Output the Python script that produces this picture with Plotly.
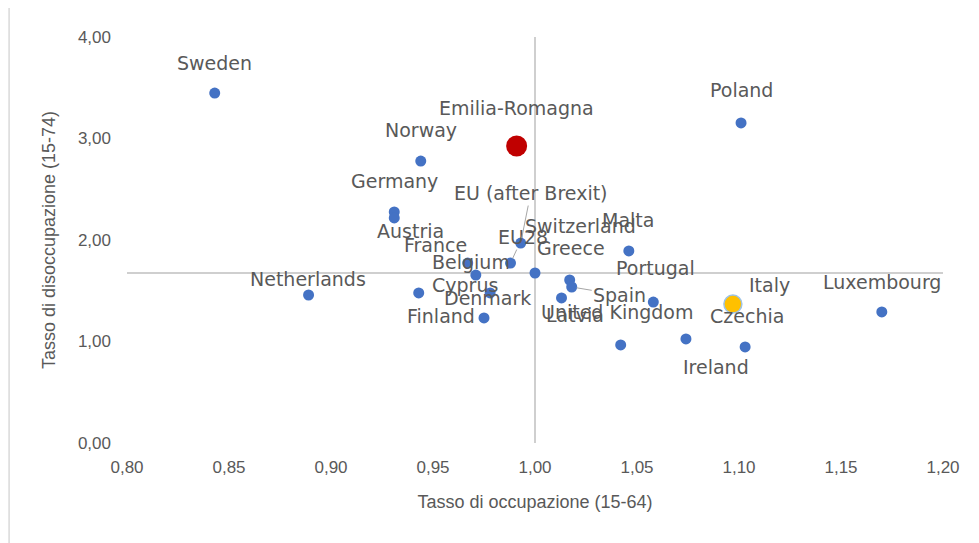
import plotly.graph_objects as go

# ---- data ----
countries = ["Sweden", "Netherlands", "Norway", "Germany", "Austria", "Poland", "Malta",
             "Luxembourg", "Denmark", "France", "Belgium", "EU28", "Switzerland",
             "EU (after Brexit)", "Cyprus", "Finland", "Greece", "Spain", "Latvia",
             "Portugal", "United Kingdom", "Ireland", "Czechia"]
occupazione = [0.843, 0.889, 0.944, 0.931, 0.931, 1.101, 1.046,
               1.170, 0.943, 0.967, 0.971, 0.988, 1.000,
               0.993, 0.978, 0.975, 1.017, 1.018, 1.013,
               1.058, 1.042, 1.074, 1.103]
disoccupazione = [3.448, 1.458, 2.778, 2.276, 2.217, 3.153, 1.892,
                  1.291, 1.478, 1.773, 1.655, 1.773, 1.675,
                  1.970, 1.478, 1.232, 1.606, 1.537, 1.429,
                  1.389, 0.966, 1.025, 0.946]

region_name = "Emilia-Romagna"
region_x = [0.991]
region_y = [2.926]

italy_name = "Italy"
italy_x = [1.097]
italy_y = [1.369]

ref_x = 1.00      # reference cross (EU average)
ref_y = 1.675

x_ticks = [0.80, 0.85, 0.90, 0.95, 1.00, 1.05, 1.10, 1.15, 1.20]
y_ticks = [0, 1, 2, 3, 4]

# label offsets in pixels (dx right, dy down) - styling only
label_offsets = {
    "Sweden": (0, -30), "Netherlands": (-1, -16), "Norway": (0, -31), "Germany": (0, -31),
    "Austria": (16, 13), "Poland": (0, -33), "Malta": (-1, -31), "Luxembourg": (0, -30),
    "Denmark": (69, 5), "France": (-32, -18), "Belgium": (-5, -13), "EU28": (12, -26),
    "Switzerland": (45, -47), "EU (after Brexit)": (10, -50), "Cyprus": (-25, -8),
    "Finland": (-43, -2), "Greece": (1, -32), "Spain": (48, 8), "Latvia": (13, 17),
    "Portugal": (2, -34), "United Kingdom": (-3, -33), "Ireland": (30, 28), "Czechia": (2, -31),
    "Emilia-Romagna": (0, -38), "Italy": (37, -19),
}
leaders = {"EU (after Brexit)", "EU28", "Spain"}

LABEL_FONT = dict(family="DejaVu Sans", size=19, color="#595959")
TICK_FONT = dict(family="Liberation Sans", size=17, color="#595959")
TITLE_FONT = dict(family="Liberation Sans", size=18, color="#595959")

fig = go.Figure()

fig.add_trace(go.Scatter(
    x=occupazione, y=disoccupazione, mode="markers",
    marker=dict(color="#4472C4", size=11, line=dict(width=0)),
    hoverinfo="skip", showlegend=False))
fig.add_trace(go.Scatter(
    x=region_x, y=region_y, mode="markers",
    marker=dict(color="#C00000", size=21, line=dict(width=0)),
    hoverinfo="skip", showlegend=False))
fig.add_trace(go.Scatter(
    x=italy_x, y=italy_y, mode="markers",
    marker=dict(color="#FFC000", size=18, line=dict(width=1.5, color="#9DC3E6")),
    hoverinfo="skip", showlegend=False))

all_names = countries + [region_name, italy_name]
all_x = occupazione + region_x + italy_x
all_y = disoccupazione + region_y + italy_y

annotations = []
for n, xv, yv in zip(all_names, all_x, all_y):
    dx, dy = label_offsets.get(n, (0, -30))
    if n in leaders:
        annotations.append(dict(x=xv, y=yv, xref="x", yref="y", text=n, showarrow=True,
                                ax=dx, ay=dy, arrowhead=0, arrowwidth=1, arrowcolor="#A6A6A6",
                                standoff=5, font=LABEL_FONT))
    else:
        annotations.append(dict(x=xv, y=yv, xref="x", yref="y", text=n, showarrow=False,
                                xshift=dx, yshift=-dy, font=LABEL_FONT))

shapes = [
    dict(type="line", xref="x", yref="y", x0=x_ticks[0], x1=x_ticks[-1], y0=ref_y, y1=ref_y,
         line=dict(color="#BFBFBF", width=1.5), layer="below"),
    dict(type="line", xref="x", yref="y", x0=ref_x, x1=ref_x, y0=y_ticks[0], y1=y_ticks[-1],
         line=dict(color="#BFBFBF", width=1.5), layer="below"),
    dict(type="line", xref="paper", yref="paper", x0=-0.1445, x1=-0.1445, y0=-0.3, y1=1.1,
         line=dict(color="#D9D9D9", width=1.5)),
]

fig.update_layout(
    width=979, height=543,
    margin=dict(l=119, r=44, t=29, b=108),
    paper_bgcolor="white", plot_bgcolor="white",
    separators=",.",
    annotations=annotations, shapes=shapes,
    xaxis=dict(range=[x_ticks[0], x_ticks[-1]], tickvals=x_ticks, tickformat=".2f",
               showgrid=False, zeroline=False, showline=False, ticks="",
               tickfont=TICK_FONT, ticklabelstandoff=12,
               title=dict(text="Tasso di occupazione (15-64)", standoff=19, font=TITLE_FONT)),
    yaxis=dict(range=[y_ticks[0], y_ticks[-1]], tickvals=y_ticks, tickformat=".2f",
               showgrid=False, zeroline=False, showline=False, ticks="",
               tickfont=TICK_FONT, ticklabelstandoff=15,
               title=dict(text="Tasso di disoccupazione (15-74)", standoff=17, font=TITLE_FONT)),
)

fig.write_html("out.html")
